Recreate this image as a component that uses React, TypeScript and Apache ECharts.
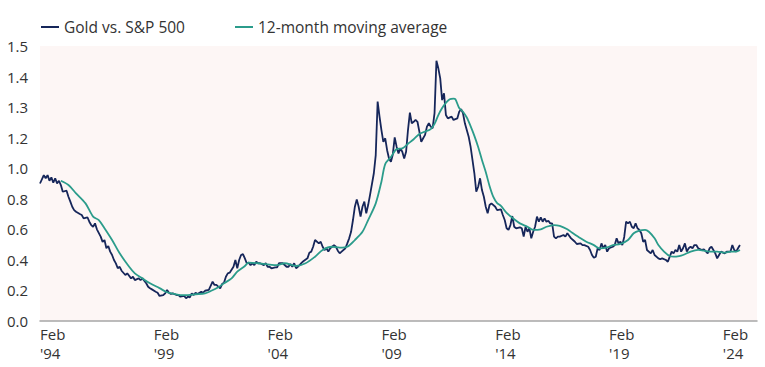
import React, { useEffect, useRef } from 'react';
import * as echarts from 'echarts';

// Tick labels shown on the value axis (as printed on the chart, evenly spaced)
const yTickLabels = [0, 0.2, 0.4, 0.6, 0.8, 1.0, 1.2, 1.3, 1.4, 1.5];
// X-axis: first month of data and label step (every 5 years, February)
const startMonth = '1994-02';
const axisEndMonth = '2025-08';
const xLabelStepMonths = 60;
const seriesNames = ['Gold vs. S&P 500', '12-month moving average'];

const goldVsSP: [string, number][] = [
  ['1994-02', 0.9], ['1994-04', 0.955], ['1994-05', 0.934], ['1994-06', 0.955], ['1994-07', 0.918], ['1994-08', 0.94],
  ['1994-09', 0.905], ['1994-10', 0.934], ['1994-11', 0.901], ['1994-12', 0.918], ['1995-01', 0.89], ['1995-02', 0.846],
  ['1995-04', 0.853], ['1995-05', 0.813], ['1995-06', 0.781], ['1995-07', 0.748], ['1995-08', 0.726], ['1995-09', 0.715],
  ['1995-11', 0.7], ['1995-12', 0.694], ['1996-01', 0.672], ['1996-03', 0.679], ['1996-04', 0.65], ['1996-05', 0.628],
  ['1996-06', 0.617], ['1996-07', 0.639], ['1996-08', 0.6], ['1996-10', 0.552], ['1996-11', 0.518], ['1996-12', 0.53],
  ['1997-01', 0.476], ['1997-02', 0.491], ['1997-03', 0.454], ['1997-04', 0.432], ['1997-05', 0.399], ['1997-06', 0.377],
  ['1997-07', 0.345], ['1997-08', 0.355], ['1997-09', 0.329], ['1997-11', 0.301], ['1997-12', 0.312], ['1998-02', 0.279],
  ['1998-03', 0.29], ['1998-04', 0.268], ['1998-06', 0.279], ['1998-07', 0.268], ['1998-08', 0.279], ['1998-10', 0.247],
  ['1998-11', 0.224], ['1998-12', 0.214], ['1999-01', 0.207], ['1999-03', 0.192], ['1999-04', 0.185], ['1999-05', 0.164],
  ['1999-07', 0.17], ['1999-08', 0.181], ['1999-09', 0.203], ['1999-10', 0.185], ['1999-11', 0.177], ['1999-12', 0.181],
  ['2000-02', 0.17], ['2000-03', 0.17], ['2000-04', 0.159], ['2000-06', 0.164], ['2000-07', 0.149], ['2000-08', 0.159],
  ['2000-09', 0.155], ['2000-10', 0.181], ['2000-11', 0.17], ['2000-12', 0.185], ['2001-01', 0.177], ['2001-03', 0.192],
  ['2001-04', 0.185], ['2001-05', 0.198], ['2001-07', 0.203], ['2001-09', 0.257], ['2001-10', 0.236], ['2001-11', 0.236],
  ['2002-01', 0.214], ['2002-02', 0.242], ['2002-03', 0.251], ['2002-04', 0.29], ['2002-05', 0.312], ['2002-06', 0.316],
  ['2002-08', 0.355], ['2002-09', 0.399], ['2002-10', 0.345], ['2002-11', 0.399], ['2002-12', 0.432], ['2003-01', 0.438],
  ['2003-02', 0.41], ['2003-03', 0.378], ['2003-04', 0.382], ['2003-05', 0.366], ['2003-06', 0.378], ['2003-07', 0.366],
  ['2003-08', 0.388], ['2003-09', 0.378], ['2003-10', 0.378], ['2003-12', 0.366], ['2004-01', 0.378], ['2004-02', 0.355],
  ['2004-03', 0.355], ['2004-04', 0.345], ['2004-06', 0.351], ['2004-07', 0.351], ['2004-08', 0.378], ['2004-10', 0.378],
  ['2004-12', 0.355], ['2005-01', 0.355], ['2005-02', 0.373], ['2005-03', 0.355], ['2005-04', 0.378], ['2005-05', 0.345],
  ['2005-06', 0.355], ['2005-08', 0.382], ['2005-09', 0.393], ['2005-11', 0.41], ['2005-12', 0.447], ['2006-01', 0.454],
  ['2006-02', 0.486], ['2006-03', 0.53], ['2006-05', 0.508], ['2006-06', 0.519], ['2006-07', 0.486], ['2006-08', 0.465],
  ['2006-09', 0.476], ['2006-10', 0.454], ['2006-11', 0.476], ['2006-12', 0.486], ['2007-01', 0.497], ['2007-02', 0.486],
  ['2007-03', 0.46], ['2007-04', 0.443], ['2007-05', 0.454], ['2007-07', 0.476], ['2007-08', 0.508], ['2007-09', 0.541],
  ['2007-10', 0.584], ['2007-11', 0.661], ['2007-12', 0.748], ['2008-01', 0.796], ['2008-02', 0.748], ['2008-03', 0.683],
  ['2008-04', 0.748], ['2008-05', 0.781], ['2008-06', 0.705], ['2008-07', 0.759], ['2008-08', 0.825], ['2008-10', 0.967],
  ['2008-11', 1.086], ['2008-12', 1.318], ['2009-01', 1.269], ['2009-02', 1.225], ['2009-03', 1.173], ['2009-04', 1.196],
  ['2009-05', 1.118], ['2009-06', 1.064], ['2009-07', 1.042], ['2009-08', 1.09], ['2009-09', 1.201], ['2009-10', 1.141],
  ['2009-11', 1.097], ['2009-12', 1.13], ['2010-01', 1.108], ['2010-02', 1.064], ['2010-03', 1.108], ['2010-04', 1.225],
  ['2010-05', 1.282], ['2010-06', 1.247], ['2010-07', 1.252], ['2010-08', 1.258], ['2010-09', 1.252], ['2010-10', 1.22],
  ['2010-11', 1.173], ['2010-12', 1.196], ['2011-01', 1.209], ['2011-02', 1.236], ['2011-03', 1.247], ['2011-04', 1.236],
  ['2011-05', 1.231], ['2011-06', 1.28], ['2011-07', 1.452], ['2011-08', 1.427], ['2011-09', 1.394], ['2011-10', 1.323],
  ['2011-11', 1.345], ['2011-12', 1.274], ['2012-01', 1.263], ['2012-03', 1.269], ['2012-04', 1.258], ['2012-06', 1.263],
  ['2012-07', 1.285], ['2012-08', 1.293], ['2012-09', 1.28], ['2012-10', 1.247], ['2012-12', 1.203], ['2013-01', 1.141],
  ['2013-02', 1.054], ['2013-03', 0.967], ['2013-04', 0.846], ['2013-05', 0.879], ['2013-06', 0.934], ['2013-07', 0.857],
  ['2013-08', 0.813], ['2013-09', 0.748], ['2013-10', 0.705], ['2013-11', 0.759], ['2013-12', 0.77], ['2014-02', 0.748],
  ['2014-03', 0.726], ['2014-05', 0.731], ['2014-06', 0.694], ['2014-07', 0.661], ['2014-08', 0.607], ['2014-09', 0.596],
  ['2014-10', 0.628], ['2014-11', 0.687], ['2014-12', 0.617], ['2015-01', 0.607], ['2015-03', 0.613], ['2015-04', 0.607],
  ['2015-05', 0.552], ['2015-06', 0.617], ['2015-07', 0.584], ['2015-08', 0.607], ['2015-09', 0.541], ['2015-10', 0.584],
  ['2015-11', 0.617], ['2015-12', 0.683], ['2016-01', 0.65], ['2016-02', 0.679], ['2016-03', 0.65], ['2016-04', 0.672],
  ['2016-05', 0.65], ['2016-06', 0.656], ['2016-07', 0.639], ['2016-08', 0.639], ['2016-09', 0.552], ['2016-10', 0.541],
  ['2016-11', 0.552], ['2016-12', 0.552], ['2017-02', 0.563], ['2017-03', 0.552], ['2017-04', 0.574], ['2017-06', 0.541],
  ['2017-07', 0.53], ['2017-08', 0.519], ['2017-09', 0.504], ['2017-11', 0.508], ['2017-12', 0.497], ['2018-01', 0.497],
  ['2018-03', 0.486], ['2018-04', 0.465], ['2018-05', 0.432], ['2018-06', 0.414], ['2018-07', 0.421], ['2018-08', 0.476],
  ['2018-09', 0.465], ['2018-10', 0.508], ['2018-11', 0.476], ['2018-12', 0.497], ['2019-01', 0.454], ['2019-02', 0.476],
  ['2019-04', 0.486], ['2019-05', 0.497], ['2019-06', 0.541], ['2019-07', 0.508], ['2019-08', 0.519], ['2019-09', 0.497],
  ['2019-10', 0.55], ['2019-11', 0.65], ['2019-12', 0.639], ['2020-01', 0.65], ['2020-02', 0.617], ['2020-03', 0.607],
  ['2020-04', 0.639], ['2020-05', 0.607], ['2020-06', 0.596], ['2020-07', 0.574], ['2020-08', 0.519], ['2020-09', 0.53],
  ['2020-10', 0.465], ['2020-12', 0.443], ['2021-01', 0.465], ['2021-02', 0.432], ['2021-04', 0.41], ['2021-05', 0.404],
  ['2021-06', 0.41], ['2021-08', 0.399], ['2021-09', 0.388], ['2021-10', 0.421], ['2021-11', 0.454], ['2021-12', 0.443],
  ['2022-01', 0.465], ['2022-02', 0.454], ['2022-03', 0.497], ['2022-04', 0.454], ['2022-05', 0.476], ['2022-06', 0.508],
  ['2022-07', 0.454], ['2022-08', 0.476], ['2022-09', 0.486], ['2022-10', 0.476], ['2022-11', 0.497], ['2022-12', 0.497],
  ['2023-01', 0.476], ['2023-03', 0.465], ['2023-04', 0.469], ['2023-06', 0.443], ['2023-07', 0.476], ['2023-08', 0.486],
  ['2023-09', 0.465], ['2023-10', 0.443], ['2023-11', 0.41], ['2023-12', 0.432], ['2024-01', 0.454], ['2024-03', 0.443],
  ['2024-04', 0.454], ['2024-06', 0.454], ['2024-07', 0.497], ['2024-08', 0.465], ['2024-09', 0.454], ['2024-10', 0.476],
  ['2024-11', 0.497],
];

const movingAverage: [string, number][] = [
  ['1995-01', 0.918], ['1995-05', 0.89], ['1995-09', 0.836], ['1996-02', 0.77], ['1996-06', 0.683], ['1996-09', 0.661],
  ['1996-12', 0.607], ['1997-04', 0.53], ['1997-08', 0.443], ['1998-01', 0.355], ['1998-04', 0.312], ['1998-08', 0.279],
  ['1998-12', 0.247], ['1999-05', 0.215], ['1999-09', 0.188], ['2000-01', 0.177], ['2000-04', 0.17], ['2000-08', 0.17],
  ['2000-12', 0.175], ['2001-05', 0.181], ['2001-08', 0.196], ['2001-12', 0.221], ['2002-03', 0.247], ['2002-07', 0.279],
  ['2002-10', 0.323], ['2003-02', 0.36], ['2003-04', 0.382], ['2003-09', 0.378], ['2004-02', 0.371], ['2004-07', 0.366],
  ['2004-11', 0.378], ['2005-05', 0.36], ['2005-10', 0.378], ['2006-03', 0.421], ['2006-07', 0.465], ['2006-12', 0.486],
  ['2007-04', 0.48], ['2007-08', 0.486], ['2007-12', 0.53], ['2008-04', 0.584], ['2008-07', 0.661], ['2008-11', 0.77],
  ['2009-02', 0.912], ['2009-04', 1.027], ['2009-07', 1.073], ['2009-10', 1.125], ['2010-01', 1.13], ['2010-04', 1.16],
  ['2010-07', 1.19], ['2010-10', 1.212], ['2011-01', 1.22], ['2011-04', 1.228], ['2011-06', 1.245], ['2011-08', 1.274],
  ['2011-10', 1.297], ['2011-12', 1.314], ['2012-02', 1.326], ['2012-04', 1.328], ['2012-05', 1.326], ['2012-07', 1.297],
  ['2012-09', 1.285], ['2012-11', 1.266], ['2013-01', 1.238], ['2013-03', 1.206], ['2013-05', 1.139], ['2013-07', 1.054],
  ['2013-09', 0.975], ['2013-11', 0.884], ['2014-01', 0.812], ['2014-03', 0.772], ['2014-05', 0.753], ['2014-08', 0.707],
  ['2014-12', 0.666], ['2015-03', 0.639], ['2015-07', 0.617], ['2015-10', 0.596], ['2016-02', 0.6], ['2016-05', 0.617],
  ['2016-09', 0.628], ['2016-12', 0.622], ['2017-04', 0.6], ['2017-07', 0.574], ['2017-11', 0.541], ['2018-02', 0.519],
  ['2018-06', 0.497], ['2018-09', 0.476], ['2019-01', 0.482], ['2019-04', 0.497], ['2019-08', 0.504], ['2019-12', 0.53],
  ['2020-03', 0.574], ['2020-06', 0.591], ['2020-09', 0.596], ['2020-11', 0.584], ['2021-02', 0.541], ['2021-04', 0.497],
  ['2021-07', 0.454], ['2021-10', 0.425], ['2021-12', 0.421], ['2022-03', 0.425], ['2022-05', 0.432], ['2022-09', 0.454],
  ['2023-01', 0.465], ['2023-04', 0.46], ['2023-08', 0.454], ['2023-11', 0.454], ['2024-03', 0.447], ['2024-06', 0.454],
  ['2024-09', 0.454], ['2024-11', 0.465],
];

const FONT = '"Open Sans", sans-serif';
const TEXT = '#333333';
const NAVY = '#16265a';
const TEAL = '#2b9c8b';

function monthsFromStart(d: string): number {
  const [y, m] = d.split('-').map(Number);
  const [y0, m0] = startMonth.split('-').map(Number);
  return (y - y0) * 12 + (m - m0);
}

// Position on the evenly spaced printed tick scale
function toAxis(v: number): number {
  for (let i = 0; i < yTickLabels.length - 1; i++) {
    const a = yTickLabels[i];
    const b = yTickLabels[i + 1];
    if (v <= b || i === yTickLabels.length - 2) return i + (v - a) / (b - a);
  }
  return 0;
}

export default function App() {
  const ref = useRef<HTMLDivElement>(null);
  useEffect(() => {
    if (!ref.current) return;
    const chart = echarts.init(ref.current, undefined, { renderer: 'svg' });
    const [y0] = startMonth.split('-').map(Number);
    chart.setOption({
      animation: false,
      backgroundColor: '#ffffff',
      textStyle: { fontFamily: FONT },
      legend: {
        left: 36,
        top: 14,
        itemWidth: 18,
        itemHeight: 2,
        itemGap: 50,
        icon: 'rect',
        textStyle: { fontFamily: FONT, fontSize: 15.5, color: TEXT },
        data: seriesNames,
      },
      grid: {
        left: 40,
        right: 8,
        top: 46,
        bottom: 46,
        show: true,
        backgroundColor: '#fdf6f5',
        borderWidth: 0,
      },
      xAxis: {
        type: 'value',
        min: 0,
        max: monthsFromStart(axisEndMonth),
        interval: xLabelStepMonths,
        axisLine: { show: true, lineStyle: { color: '#a6a6a6', width: 1.5 } },
        axisTick: { show: false },
        splitLine: { show: false },
        axisLabel: {
          fontFamily: FONT,
          fontSize: 15,
          color: TEXT,
          align: 'left',
          lineHeight: 19,
          margin: 3,
          showMaxLabel: false,
          formatter: (v: number) => {
            if (v % xLabelStepMonths !== 0) return '';
            const yr = (y0 + v / 12) % 100;
            return `Feb\n'${String(yr).padStart(2, '0')}`;
          },
        },
      },
      yAxis: {
        type: 'value',
        min: 0,
        max: yTickLabels.length - 1,
        interval: 1,
        axisLine: { show: false },
        axisTick: { show: false },
        splitLine: { show: false },
        axisLabel: {
          fontFamily: FONT,
          fontSize: 15,
          color: TEXT,
          margin: 12,
          formatter: (v: number) => {
            const t = yTickLabels[Math.round(v)];
            return t === undefined ? '' : t.toFixed(1);
          },
        },
      },
      series: [
        {
          name: seriesNames[0],
          type: 'line',
          symbol: 'none',
          color: NAVY,
          lineStyle: { color: NAVY, width: 1.8 },
          data: goldVsSP.map(([d, v]) => [monthsFromStart(d), toAxis(v)]),
          z: 2,
        },
        {
          name: seriesNames[1],
          type: 'line',
          symbol: 'none',
          color: TEAL,
          lineStyle: { color: TEAL, width: 1.8 },
          data: movingAverage.map(([d, v]) => [monthsFromStart(d), toAxis(v)]),
          smooth: 0.3,
          z: 3,
        },
      ],
    });
    return () => chart.dispose();
  }, []);
  return (
    <div
      ref={ref}
      style={{ position: 'absolute', left: 0, top: 0, width: 765, height: 367 }}
    />
  );
}
